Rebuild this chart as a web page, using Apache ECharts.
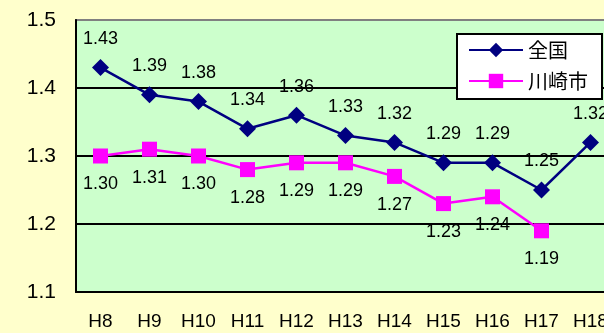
<!DOCTYPE html>
<html>
<head>
<meta charset="utf-8">
<script src="https://cdn.jsdelivr.net/npm/echarts@6/dist/echarts.min.js"></script>
<style>
html,body{margin:0;padding:0;background:#FFFFCC;overflow:hidden;}
#chart{width:620px;height:333px;}
</style>
</head>
<body>
<div id="chart"></div>
<script>
// Fiscal years (Heisei era)
const years = ['H8','H9','H10','H11','H12','H13','H14','H15','H16','H17','H18'];
// Total fertility rate: nationwide
const national = [1.43,1.39,1.38,1.34,1.36,1.33,1.32,1.29,1.29,1.25,1.32];
// Total fertility rate: Kawasaki City (no value yet for H18)
const kawasaki = [1.30,1.31,1.30,1.28,1.29,1.29,1.27,1.23,1.24,1.19,null];
const seriesNames = ['全国','川崎市'];

const latin = 'Liberation Sans, Arial, sans-serif';
const cjk = '"Noto Sans CJK JP", sans-serif';

const chart = echarts.init(document.getElementById('chart'), null, {renderer:'canvas'});
chart.setOption({
  backgroundColor: '#FFFFCC',
  animation: false,
  grid: {
    left: 76, top: 20, width: 539, height: 272,
    show: true, backgroundColor: '#CCFFCC', borderColor: '#808080', borderWidth: 2
  },
  legend: {
    left: 457, top: 34, orient: 'vertical',
    backgroundColor: '#FFFFFF', borderColor: '#000000', borderWidth: 2,
    padding: [6, 14, 8, 11], itemGap: 11,
    itemWidth: 54, itemHeight: 18,
    textStyle: {fontFamily: cjk, fontSize: 20, lineHeight: 18, color: '#000'},
    data: seriesNames
  },
  xAxis: {
    type: 'category', data: years, boundaryGap: true,
    axisLine: {lineStyle: {color: '#000', width: 2}},
    axisTick: {inside: true, length: 6, lineStyle: {color: '#000', width: 2}},
    axisLabel: {fontFamily: latin, fontSize: 19, color: '#000', margin: 20},
    splitLine: {show: false}
  },
  yAxis: {
    type: 'value', min: 1.1, max: 1.5, interval: 0.1,
    axisLine: {show: true, lineStyle: {color: '#000', width: 2}},
    axisTick: {show: false},
    axisLabel: {fontFamily: latin, fontSize: 21, color: '#000', margin: 20,
      formatter: v => v.toFixed(1)},
    splitLine: {show: true, lineStyle: {color: ['#000','#000','#000','#000','#808080'], width: 2}}
  },
  series: [
    {
      name: seriesNames[0], type: 'line', data: national,
      symbol: 'diamond', symbolSize: 17,
      itemStyle: {color: '#000080'},
      lineStyle: {color: '#000080', width: 2.5},
      label: {show: true, position: 'top', distance: 11,
        fontFamily: latin, fontSize: 18, color: '#000',
        formatter: p => p.value.toFixed(2)}
    },
    {
      name: seriesNames[1], type: 'line', data: kawasaki,
      symbol: 'rect', symbolSize: 15,
      itemStyle: {color: '#FF00FF'},
      lineStyle: {color: '#FF00FF', width: 2.5},
      label: {show: true, position: 'bottom', distance: 12,
        fontFamily: latin, fontSize: 18, color: '#000',
        formatter: p => p.value.toFixed(2)}
    }
  ]
});
</script>
</body>
</html>
